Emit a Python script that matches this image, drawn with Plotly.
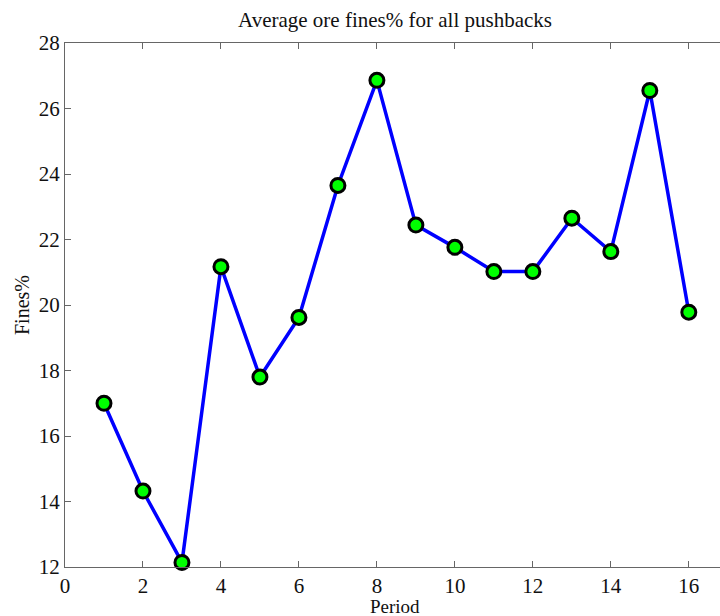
import plotly.graph_objects as go

periods = [1, 2, 3, 4, 5, 6, 7, 8, 9, 10, 11, 12, 13, 14, 15, 16]
fines = [17.0, 14.32, 12.14, 21.17, 17.8, 19.62, 23.65, 26.86, 22.44, 21.76,
         21.02, 21.02, 22.65, 21.63, 26.55, 19.78]
x_ticks = [0, 2, 4, 6, 8, 10, 12, 14, 16, 18]
y_ticks = [12, 14, 16, 18, 20, 22, 24, 26, 28]

FONT = "Liberation Serif, Times New Roman, serif"
W, H = 720, 616

fig = go.Figure()
fig.add_trace(go.Scatter(
    x=periods, y=fines, mode="lines+markers",
    line=dict(color="#0000ff", width=3.5),
    marker=dict(color="#00ff00", size=14, line=dict(color="black", width=3)),
    cliponaxis=False, showlegend=False,
))

fig.update_layout(
    width=W, height=H,
    margin=dict(l=65, r=0, t=43, b=49, autoexpand=False),
    paper_bgcolor="white", plot_bgcolor="white",
    font=dict(family=FONT, color="#111", size=21),
    title=dict(text="Average ore fines% for all pushbacks",
               x=395/W, xanchor="center", y=1-20/H, yanchor="middle",
               font=dict(family=FONT, size=21, color="#111")),
    xaxis=dict(range=[0, 16.8], tickvals=x_ticks, ticks="inside", ticklen=6,
               tickcolor="#666", showline=True, linecolor="#666", linewidth=1,
               mirror="ticks", showgrid=False, zeroline=False, automargin=False,
               tickfont=dict(size=21)),
    yaxis=dict(range=[12, 28], tickvals=y_ticks, ticks="inside", ticklen=6,
               tickcolor="#666", showline=True, linecolor="#666", linewidth=1,
               mirror=False, showgrid=False, zeroline=False, automargin=False,
               tickfont=dict(size=21)),
    annotations=[
        dict(text="Period", xref="paper", yref="paper",
             x=(395-65)/(W-65), y=-(606-567)/524, xanchor="center", yanchor="middle",
             showarrow=False, font=dict(size=19)),
        dict(text="Fines%", xref="paper", yref="paper",
             x=-(65-22)/(W-65), y=(567-305)/524, xanchor="center", yanchor="middle",
             textangle=-90, showarrow=False, font=dict(size=20)),
    ],
)

fig.write_html("out.html", config={"displayModeBar": False},
               post_script="document.body.style.margin='0';document.body.style.padding='0';")
